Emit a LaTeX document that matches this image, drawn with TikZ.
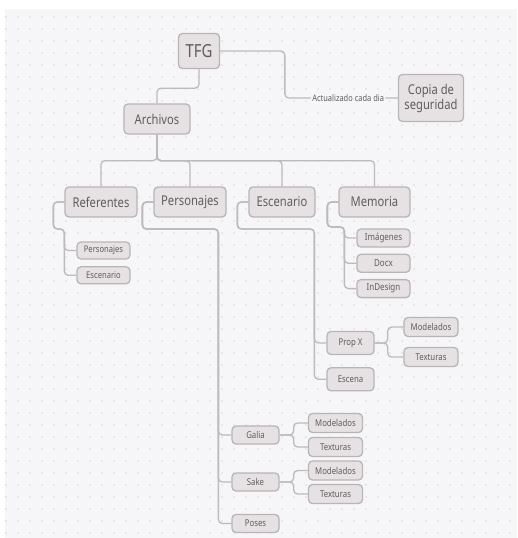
\documentclass[tikz,border=0pt]{standalone}
\usepackage{fontspec}
\setmainfont{Noto Sans}[FakeStretch=0.83]
\usetikzlibrary{positioning}

\definecolor{canvas}{HTML}{F6F6F8}
\definecolor{dotc}{HTML}{D8D8DC}
\definecolor{boxfill}{HTML}{E6E2E4}
\definecolor{boxline}{HTML}{B8B5B7}
\definecolor{linkc}{HTML}{BDBABC}
\definecolor{txt}{HTML}{5E5C5E}

\begin{document}
\begin{tikzpicture}[x=1pt,y=-1pt,
        box/.style={draw=boxline,fill=boxfill,line width=1.3pt,rounded corners=4pt,text=txt,align=center,inner sep=0pt},
        rootbox/.style={box,minimum width=41pt,minimum height=35pt,font=\fontsize{18}{20}\selectfont},
        mainbox/.style={box,minimum height=30pt,font=\fontsize{13.5}{15}\selectfont},
        leafbox/.style={box,minimum width=53pt,minimum height=18pt,font=\fontsize{9.2}{11}\selectfont},
        midbox/.style={box,minimum width=47pt,minimum height=18pt,font=\fontsize{9.4}{11}\selectfont},
        endbox/.style={box,minimum width=54pt,minimum height=19pt,font=\fontsize{9.4}{11}\selectfont},
        link/.style={draw=linkc,line width=1.3pt,rounded corners=4pt},
        lbl/.style={fill=canvas,text=txt,inner sep=1.5pt,font=\fontsize{9}{10}\selectfont}]
        \useasboundingbox (0,0) rectangle (517,538);
        \fill[white] (0,0) rectangle (517,538);
        \fill[canvas] (5,9) rectangle (517,538);
        % dotted grid
        \foreach \i in {0,...,42}
            \foreach \j in {0,...,43}
                \fill[dotc] (6+12*\i,17+12*\j) circle (0.8);

        % top levels
        \node[rootbox] (tfg) at (199,51) {TFG};
        \node[mainbox,minimum width=65pt,minimum height=47pt] (copia) at (431,98) {Copia de\\seguridad};
        \node[mainbox,minimum width=66pt] (arch) at (157,119) {Archivos};
        \node[mainbox,minimum width=72pt] (ref) at (101,202) {Referentes};
        \node[mainbox,minimum width=72pt] (pers) at (190,202) {Personajes};
        \node[mainbox,minimum width=66pt] (esc) at (282,202) {Escenario};
        \node[mainbox,minimum width=71pt] (mem) at (374.5,202) {Memoria};

        % children
        \node[leafbox,minimum height=17pt] (refpers) at (103.5,250.5) {Personajes};
        \node[leafbox,minimum height=17pt,below=6.5pt of refpers] (refesc) {Escenario};
        \node[leafbox,font=\fontsize{9.6}{11}\selectfont] (img) at (383.5,238) {Imágenes};
        \node[leafbox,font=\fontsize{9.6}{11}\selectfont,below=6pt of img] (docx) {Docx};
        \node[leafbox,font=\fontsize{9.6}{11}\selectfont,below=6pt of docx] (indes) {InDesign};
        \node[midbox,minimum height=23pt] (propx) at (350.5,343) {Prop X};
        \node[midbox,minimum height=23pt,below=12pt of propx] (escena) {Escena};
        \node[endbox] (pxmod) at (431,327) {Modelados};
        \node[endbox] (pxtex) at (431,357) {Texturas};
        \node[midbox] (galia) at (255.5,435) {Galia};
        \node[endbox] (gmod) at (335.5,423) {Modelados};
        \node[endbox] (gtex) at (335.5,447) {Texturas};
        \node[midbox] (sake) at (255.5,482) {Sake};
        \node[endbox] (smod) at (335.5,470.5) {Modelados};
        \node[endbox] (stex) at (335.5,494) {Texturas};
        \node[midbox] (poses) at (255.5,523.5) {Poses};

        % connectors
        \draw[link] (tfg.south) -- ++(0,19) -| (arch.north);
        \draw[link] (tfg.east) -| ([xshift=-113pt]copia.west) -- node[lbl,pos=.56]{Actualizado cada dia} (copia.west);
        \foreach \c in {ref,pers,esc,mem}
            \draw[link] (arch.south) -- ++(0,26) -| (\c.north);
        \foreach \c in {refpers,refesc}
            \draw[link] (ref.west) -- ++(-11,0) -- ++(0,27) -- ++(11,0) |- (\c.west);
        \foreach \c in {galia,sake,poses}
            \draw[link] (pers.west) -- ++(-11,0) -- ++(0,27) -- ++(76,0) |- (\c.west);
        \foreach \c in {propx,escena}
            \draw[link] (esc.west) -- ++(-11,0) -- ++(0,27) -- ++(77,0) |- (\c.west);
        \foreach \c in {img,docx,indes}
            \draw[link] (mem.west) -- ++(-11,0) -- ++(0,25) -- ++(17,0) |- (\c.west);
        \foreach \c in {pxmod,pxtex}
            \draw[link] (propx.east) -- ++(13,0) |- (\c.west);
        \foreach \c in {gmod,gtex}
            \draw[link] (galia.east) -- ++(14,0) |- (\c.west);
        \foreach \c in {smod,stex}
            \draw[link] (sake.east) -- ++(14,0) |- (\c.west);
\end{tikzpicture}
\end{document}
